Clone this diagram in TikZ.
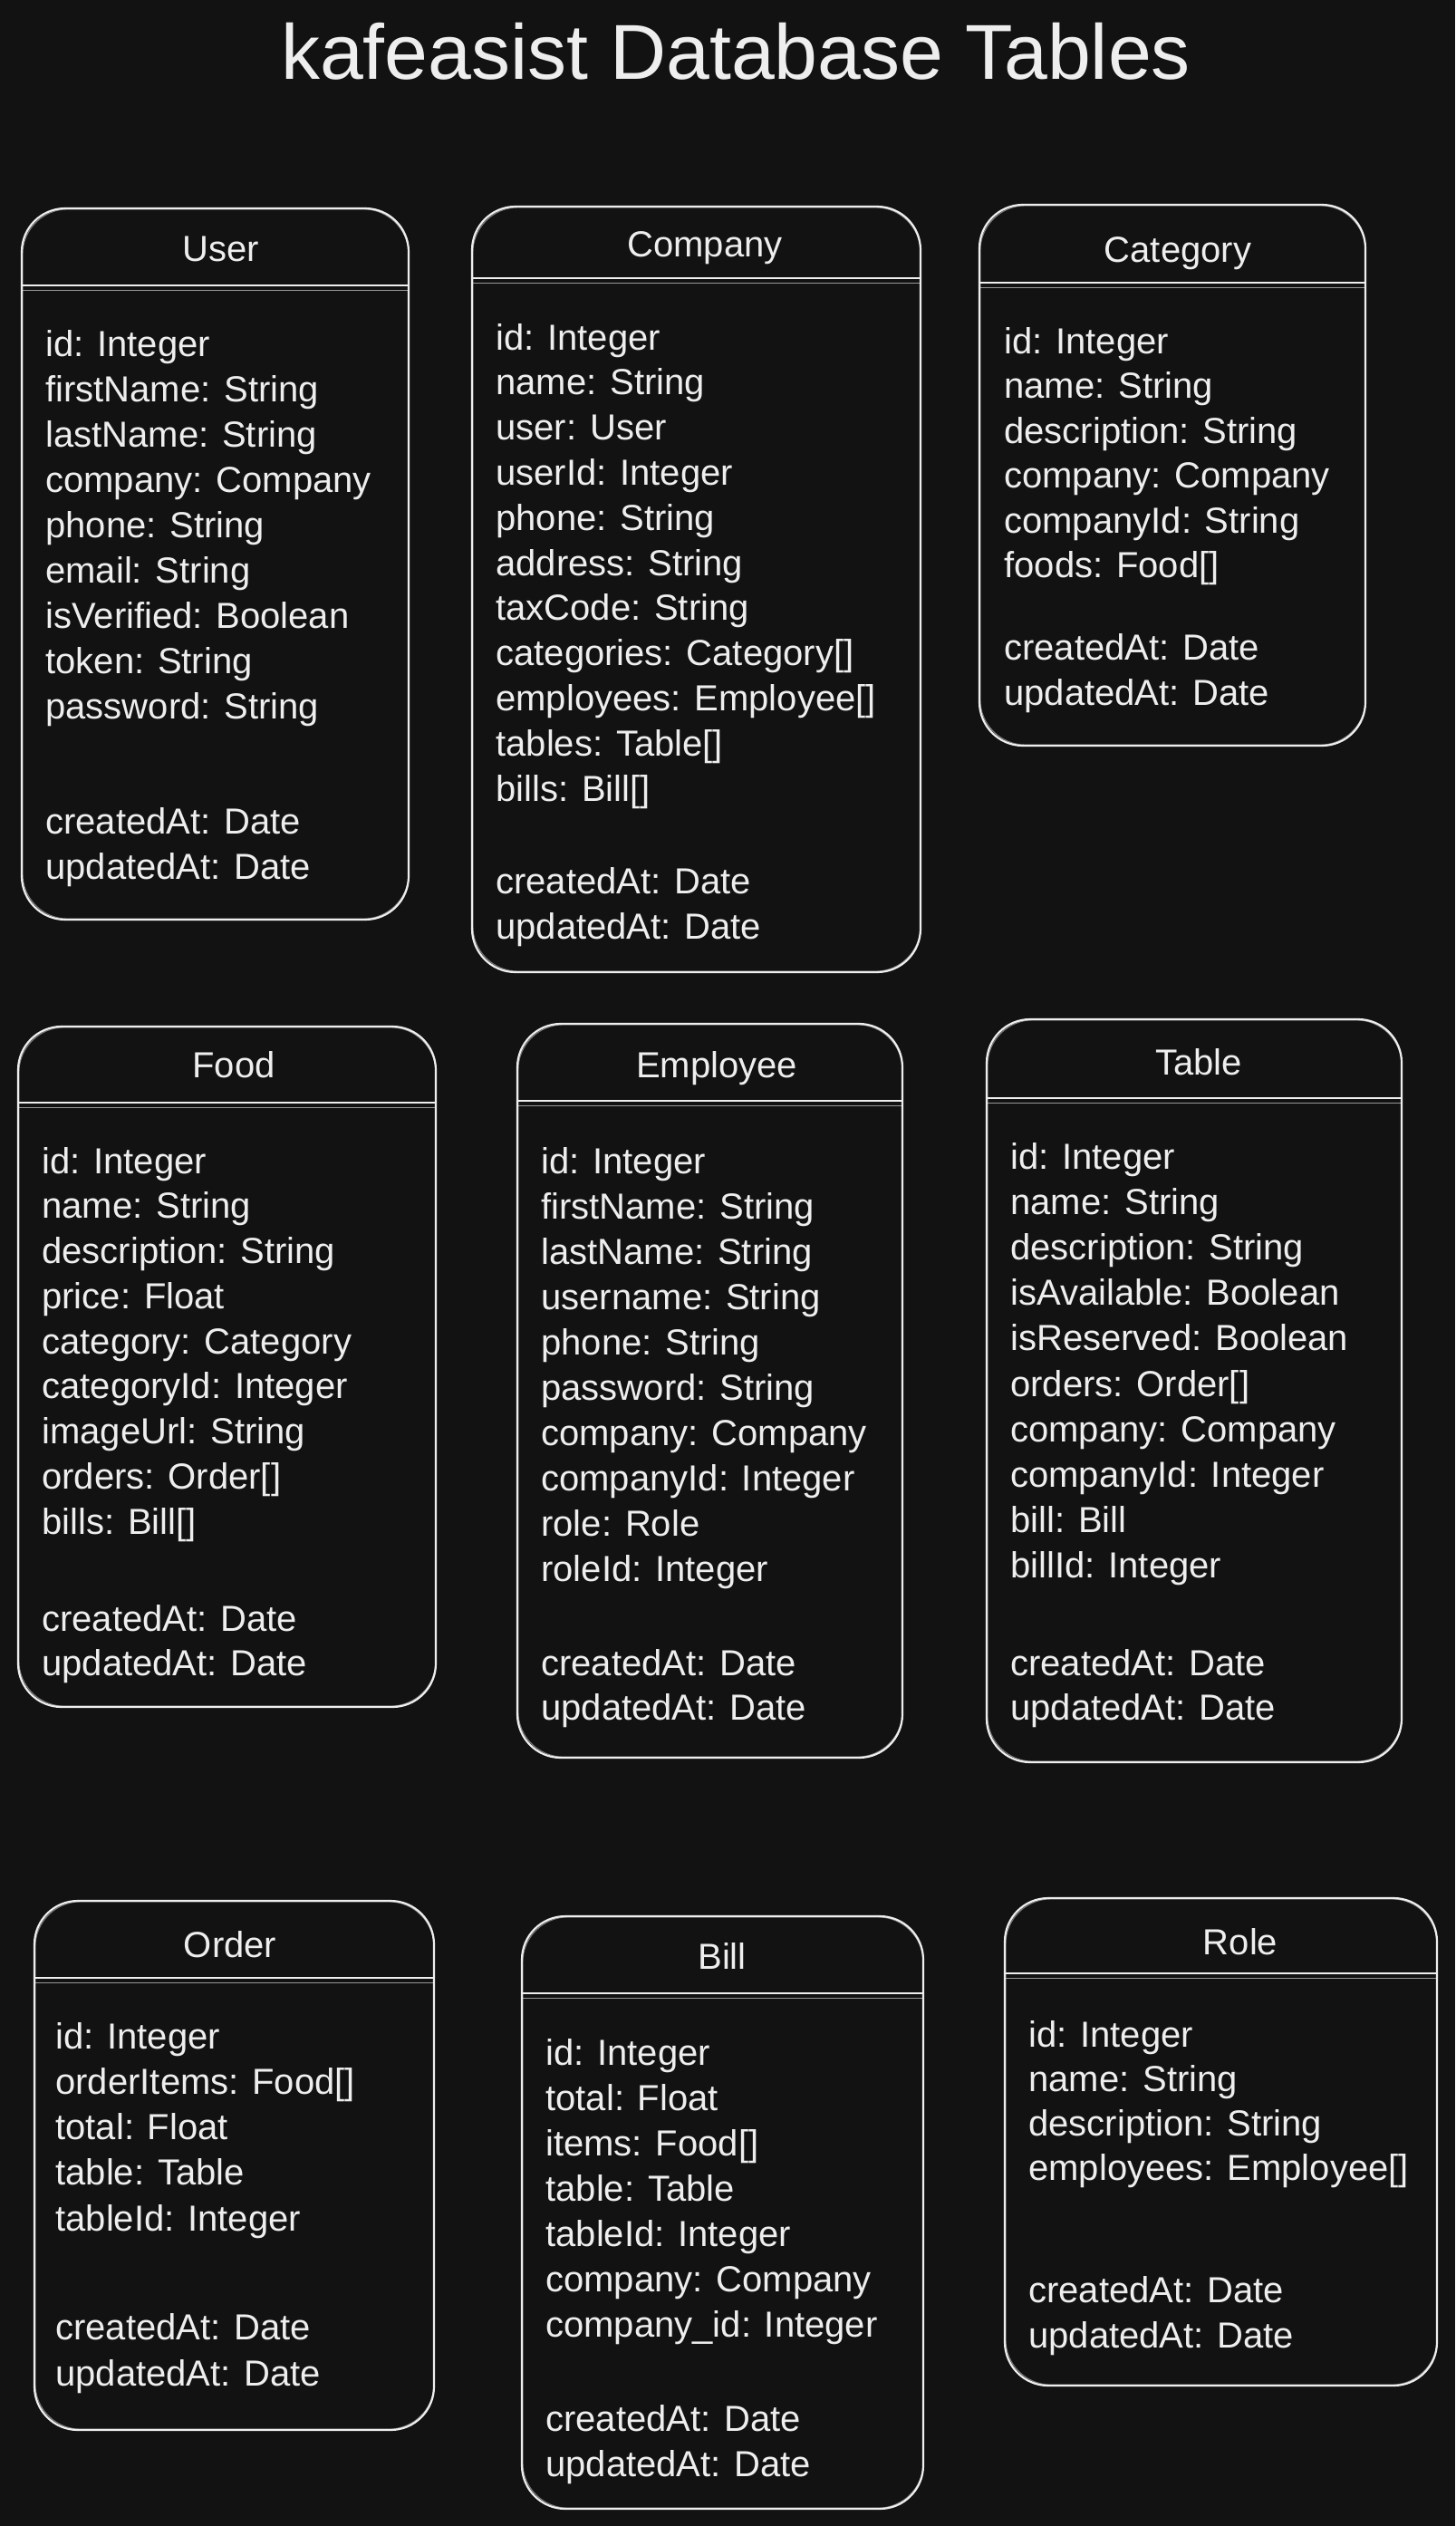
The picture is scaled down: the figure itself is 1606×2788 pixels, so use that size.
\documentclass[tikz,border=0pt]{standalone}
\usepackage{fontspec}
\setmainfont{Liberation Sans}
\usetikzlibrary{fit}
\definecolor{bg}{HTML}{121212}
\definecolor{ink}{HTML}{EEEEEE}

\begin{document}
\begin{tikzpicture}[x=0.5pt,y=-0.5pt,
  tablebox/.style={draw=ink, line width=1.1pt, rounded corners=24pt, inner sep=0pt},
  ghost/.style={draw=ink, line width=0.5pt, rounded corners=25pt, opacity=0.5},
  rule/.style={draw=ink, line width=0.9pt},
  ghostrule/.style={draw=ink, line width=0.5pt, opacity=0.6},
  field/.style={text=ink, font=\fontsize{20}{24}\selectfont, anchor=base west, inner sep=0pt, yshift=-2pt},
  heading/.style={text=ink, font=\fontsize{20}{24}\selectfont, anchor=base, inner sep=0pt, yshift=-1pt},
  titletext/.style={text=ink, font=\fontsize{43}{50}\selectfont, anchor=base, inner sep=0pt}]

% canvas
\fill[bg] (0,0) rectangle (1606,2788);
\useasboundingbox (0,0) rectangle (1606,2788);

\node[titletext] (title) at (812,88) {kafeasist Database Tables};

% ---------- User ----------
\node[tablebox, fit={(24,230) (451,1015)}] (user) {};
\draw[ghost] ([shift={(2,2)}]user.north west) rectangle ([shift={(-1,-2)}]user.south east);
\draw[rule] (user.west |- 0,315) -- (user.east |- 0,315);
\draw[ghostrule] (user.west |- 0,320) -- (user.east |- 0,320);
\node[heading] (user-head) at (244,286) {User};
\foreach \t [count=\i from 0] in {{id: Integer},{firstName: String},{lastName: String},{company: Company},{phone: String},{email: String},{isVerified: Boolean},{token: String},{password: String}}
  \node[field] (user-f\i) at (50,389+50*\i) {\t};
\foreach \t [count=\i from 0] in {{createdAt: Date},{updatedAt: Date}}
  \node[field] (user-d\i) at (50,916+50*\i) {\t};

% ---------- Company ----------
\node[tablebox, fit={(521,228) (1016,1073)}] (company) {};
\draw[ghost] ([shift={(2,2)}]company.north west) rectangle ([shift={(-1,-2)}]company.south east);
\draw[rule] (company.west |- 0,307) -- (company.east |- 0,307);
\draw[ghostrule] (company.west |- 0,312) -- (company.east |- 0,312);
\node[heading] (company-head) at (778,282) {Company};
\foreach \t [count=\i from 0] in {{id: Integer},{name: String},{user: User},{userId: Integer},{phone: String},{address: String},{taxCode: String},{categories: Category[]},{employees: Employee[]},{tables: Table[]},{bills: Bill[]}}
  \node[field] (company-f\i) at (547,382+49.8*\i) {\t};
\foreach \t [count=\i from 0] in {{createdAt: Date},{updatedAt: Date}}
  \node[field] (company-d\i) at (547,982+50*\i) {\t};

% ---------- Category ----------
\node[tablebox, fit={(1081,226) (1507,823)}] (category) {};
\draw[ghost] ([shift={(2,2)}]category.north west) rectangle ([shift={(-1,-2)}]category.south east);
\draw[rule] (category.west |- 0,312) -- (category.east |- 0,312);
\draw[ghostrule] (category.west |- 0,317) -- (category.east |- 0,317);
\node[heading] (category-head) at (1300,287) {Category};
\foreach \t [count=\i from 0] in {{id: Integer},{name: String},{description: String},{company: Company},{companyId: String},{foods: Food[]}}
  \node[field] (category-f\i) at (1108,386+49.5*\i) {\t};
\foreach \t [count=\i from 0] in {{createdAt: Date},{updatedAt: Date}}
  \node[field] (category-d\i) at (1108,724+50*\i) {\t};

% ---------- Food ----------
\node[tablebox, fit={(20,1133) (481,1884)}] (food) {};
\draw[ghost] ([shift={(2,2)}]food.north west) rectangle ([shift={(-1,-2)}]food.south east);
\draw[rule] (food.west |- 0,1217) -- (food.east |- 0,1217);
\draw[ghostrule] (food.west |- 0,1222) -- (food.east |- 0,1222);
\node[heading] (food-head) at (258,1187) {Food};
\foreach \t [count=\i from 0] in {{id: Integer},{name: String},{description: String},{price: Float},{category: Category},{categoryId: Integer},{imageUrl: String},{orders: Order[]},{bills: Bill[]}}
  \node[field] (food-f\i) at (46,1291+49.75*\i) {\t};
\foreach \t [count=\i from 0] in {{createdAt: Date},{updatedAt: Date}}
  \node[field] (food-d\i) at (46,1796+49.5*\i) {\t};

% ---------- Employee ----------
\node[tablebox, fit={(571,1130) (996,1940)}] (employee) {};
\draw[ghost] ([shift={(2,2)}]employee.north west) rectangle ([shift={(-1,-2)}]employee.south east);
\draw[rule] (employee.west |- 0,1215) -- (employee.east |- 0,1215);
\draw[ghostrule] (employee.west |- 0,1220) -- (employee.east |- 0,1220);
\node[heading] (employee-head) at (791,1187) {Employee};
\foreach \t [count=\i from 0] in {{id: Integer},{firstName: String},{lastName: String},{username: String},{phone: String},{password: String},{company: Company},{companyId: Integer},{role: Role},{roleId: Integer}}
  \node[field] (employee-f\i) at (597,1291+50*\i) {\t};
\foreach \t [count=\i from 0] in {{createdAt: Date},{updatedAt: Date}}
  \node[field] (employee-d\i) at (597,1845+49.5*\i) {\t};

% ---------- Table ----------
\node[tablebox, fit={(1089,1125) (1547,1945)}] (table) {};
\draw[ghost] ([shift={(2,2)}]table.north west) rectangle ([shift={(-1,-2)}]table.south east);
\draw[rule] (table.west |- 0,1212) -- (table.east |- 0,1212);
\draw[ghostrule] (table.west |- 0,1217) -- (table.east |- 0,1217);
\node[heading] (table-head) at (1323,1184) {Table};
\foreach \t [count=\i from 0] in {{id: Integer},{name: String},{description: String},{isAvailable: Boolean},{isReserved: Boolean},{orders: Order[]},{company: Company},{companyId: Integer},{bill: Bill},{billId: Integer}}
  \node[field] (table-f\i) at (1115,1286+50.2*\i) {\t};
\foreach \t [count=\i from 0] in {{createdAt: Date},{updatedAt: Date}}
  \node[field] (table-d\i) at (1115,1845+49.5*\i) {\t};

% ---------- Order ----------
\node[tablebox, fit={(38,2098) (479,2682)}] (order) {};
\draw[ghost] ([shift={(2,2)}]order.north west) rectangle ([shift={(-1,-2)}]order.south east);
\draw[rule] (order.west |- 0,2183) -- (order.east |- 0,2183);
\draw[ghostrule] (order.west |- 0,2188) -- (order.east |- 0,2188);
\node[heading] (order-head) at (254,2158) {Order};
\foreach \t [count=\i from 0] in {{id: Integer},{orderItems: Food[]},{total: Float},{table: Table},{tableId: Integer}}
  \node[field] (order-f\i) at (61,2257+50.25*\i) {\t};
\foreach \t [count=\i from 0] in {{createdAt: Date},{updatedAt: Date}}
  \node[field] (order-d\i) at (61,2578+51*\i) {\t};

% ---------- Bill ----------
\node[tablebox, fit={(576,2115) (1019,2769)}] (bill) {};
\draw[ghost] ([shift={(2,2)}]bill.north west) rectangle ([shift={(-1,-2)}]bill.south east);
\draw[rule] (bill.west |- 0,2200) -- (bill.east |- 0,2200);
\draw[ghostrule] (bill.west |- 0,2205) -- (bill.east |- 0,2205);
\node[heading] (bill-head) at (797,2171) {Bill};
\foreach \t [count=\i from 0] in {{id: Integer},{total: Float},{items: Food[]},{table: Table},{tableId: Integer},{company: Company},{company\_id: Integer}}
  \node[field] (bill-f\i) at (602,2275+50*\i) {\t};
\foreach \t [count=\i from 0] in {{createdAt: Date},{updatedAt: Date}}
  \node[field] (bill-d\i) at (602,2679+50*\i) {\t};

% ---------- Role ----------
\node[tablebox, fit={(1109,2095) (1586,2633)}] (role) {};
\draw[ghost] ([shift={(2,2)}]role.north west) rectangle ([shift={(-1,-2)}]role.south east);
\draw[rule] (role.west |- 0,2178) -- (role.east |- 0,2178);
\draw[ghostrule] (role.west |- 0,2183) -- (role.east |- 0,2183);
\node[heading] (role-head) at (1369,2155) {Role};
\foreach \t [count=\i from 0] in {{id: Integer},{name: String},{description: String},{employees: Employee[]}}
  \node[field] (role-f\i) at (1135,2255+49*\i) {\t};
\foreach \t [count=\i from 0] in {{createdAt: Date},{updatedAt: Date}}
  \node[field] (role-d\i) at (1135,2537+50*\i) {\t};

\end{tikzpicture}
\end{document}
